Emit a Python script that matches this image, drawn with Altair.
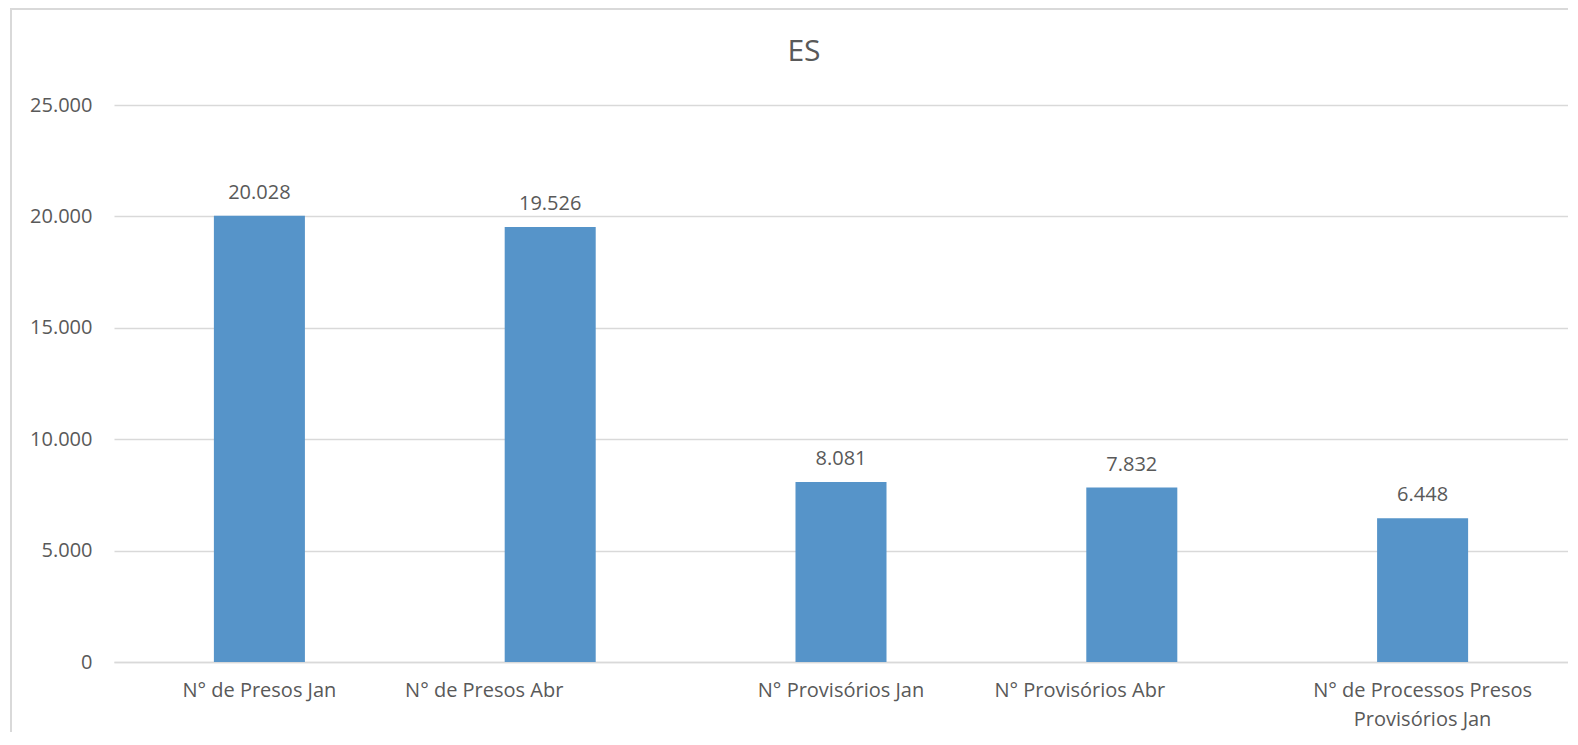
import altair as alt
import pandas as pd

categories = [
    "N° de Presos Jan",
    "N° de Presos Abr",
    "N° Provisórios Jan",
    "N° Provisórios Abr",
    "N° de Processos Presos Provisórios Jan",
]
values = [20028, 19526, 8081, 7832, 6448]
y_ticks = [0, 5000, 10000, 15000, 20000, 25000]

df = pd.DataFrame({"cat": categories, "val": values})

FONT = "Open Sans"
GREY = "#595959"
BLUE = "#5694C9"
GRID = "#D9D9D9"

x_enc = alt.X(
    "cat:N",
    sort=categories,
    title=None,
    scale=alt.Scale(paddingInner=0.687, paddingOuter=0.3435),
    axis=alt.Axis(
        labelAngle=0,
        labelFont=FONT,
        labelFontSize=20,
        labelColor=GREY,
        labelPadding=18,
        labelLineHeight=29,
        labelLimit=400,
        ticks=False,
        domainColor=GRID,
        domainWidth=1.5,
        labelExpr="length(datum.label) > 30 ? [substring(datum.label, 0, 22), substring(datum.label, 23)] : datum.label",
        labelOffset={
            "condition": [
                {"test": "datum.value === 'N° de Presos Abr'", "value": -66},
                {"test": "datum.value === 'N° Provisórios Abr'", "value": -52},
            ],
            "value": 0,
        },
    ),
)

y_enc = alt.Y(
    "val:Q",
    title=None,
    scale=alt.Scale(domain=[0, 25000], nice=False),
    axis=alt.Axis(
        values=y_ticks,
        labelFont=FONT,
        labelFontSize=20,
        labelColor=GREY,
        labelPadding=22,
        ticks=False,
        domain=False,
        gridColor=GRID,
        gridWidth=1.5,
        labelExpr="replace(format(datum.value, ','), ',', '.')",
    ),
)

border = alt.Chart(df).mark_rect(
    fill=None, stroke=GRID, strokeWidth=1.5
).encode(
    x=alt.value(-103), x2=alt.value(1600), y=alt.value(-96), y2=alt.value(800)
)

bars = alt.Chart(df).mark_bar(color=BLUE).encode(x=x_enc, y=y_enc)

labels = alt.Chart(df).transform_calculate(
    lbl="replace(format(datum.val, ','), ',', '.')"
).mark_text(
    font=FONT, fontSize=20, color=GREY, baseline="alphabetic", dy=-17
).encode(
    x=alt.X("cat:N", sort=categories),
    y="val:Q",
    text="lbl:N",
)

chart = alt.layer(border, bars, labels).properties(
    width=1454,
    height=557,
    autosize=alt.AutoSizeParams(type="none"),
    padding={"left": 106, "top": 97, "right": 0, "bottom": 70},
    title=alt.TitleParams(
        "ES",
        font=FONT,
        fontSize=30,
        fontWeight="normal",
        color=GREY,
        anchor="middle",
        baseline="alphabetic",
        dx=-37,
        offset=-83,
    ),
).configure_view(stroke=None)

chart.save("out.html", embed_options={"renderer": "svg", "actions": False})
